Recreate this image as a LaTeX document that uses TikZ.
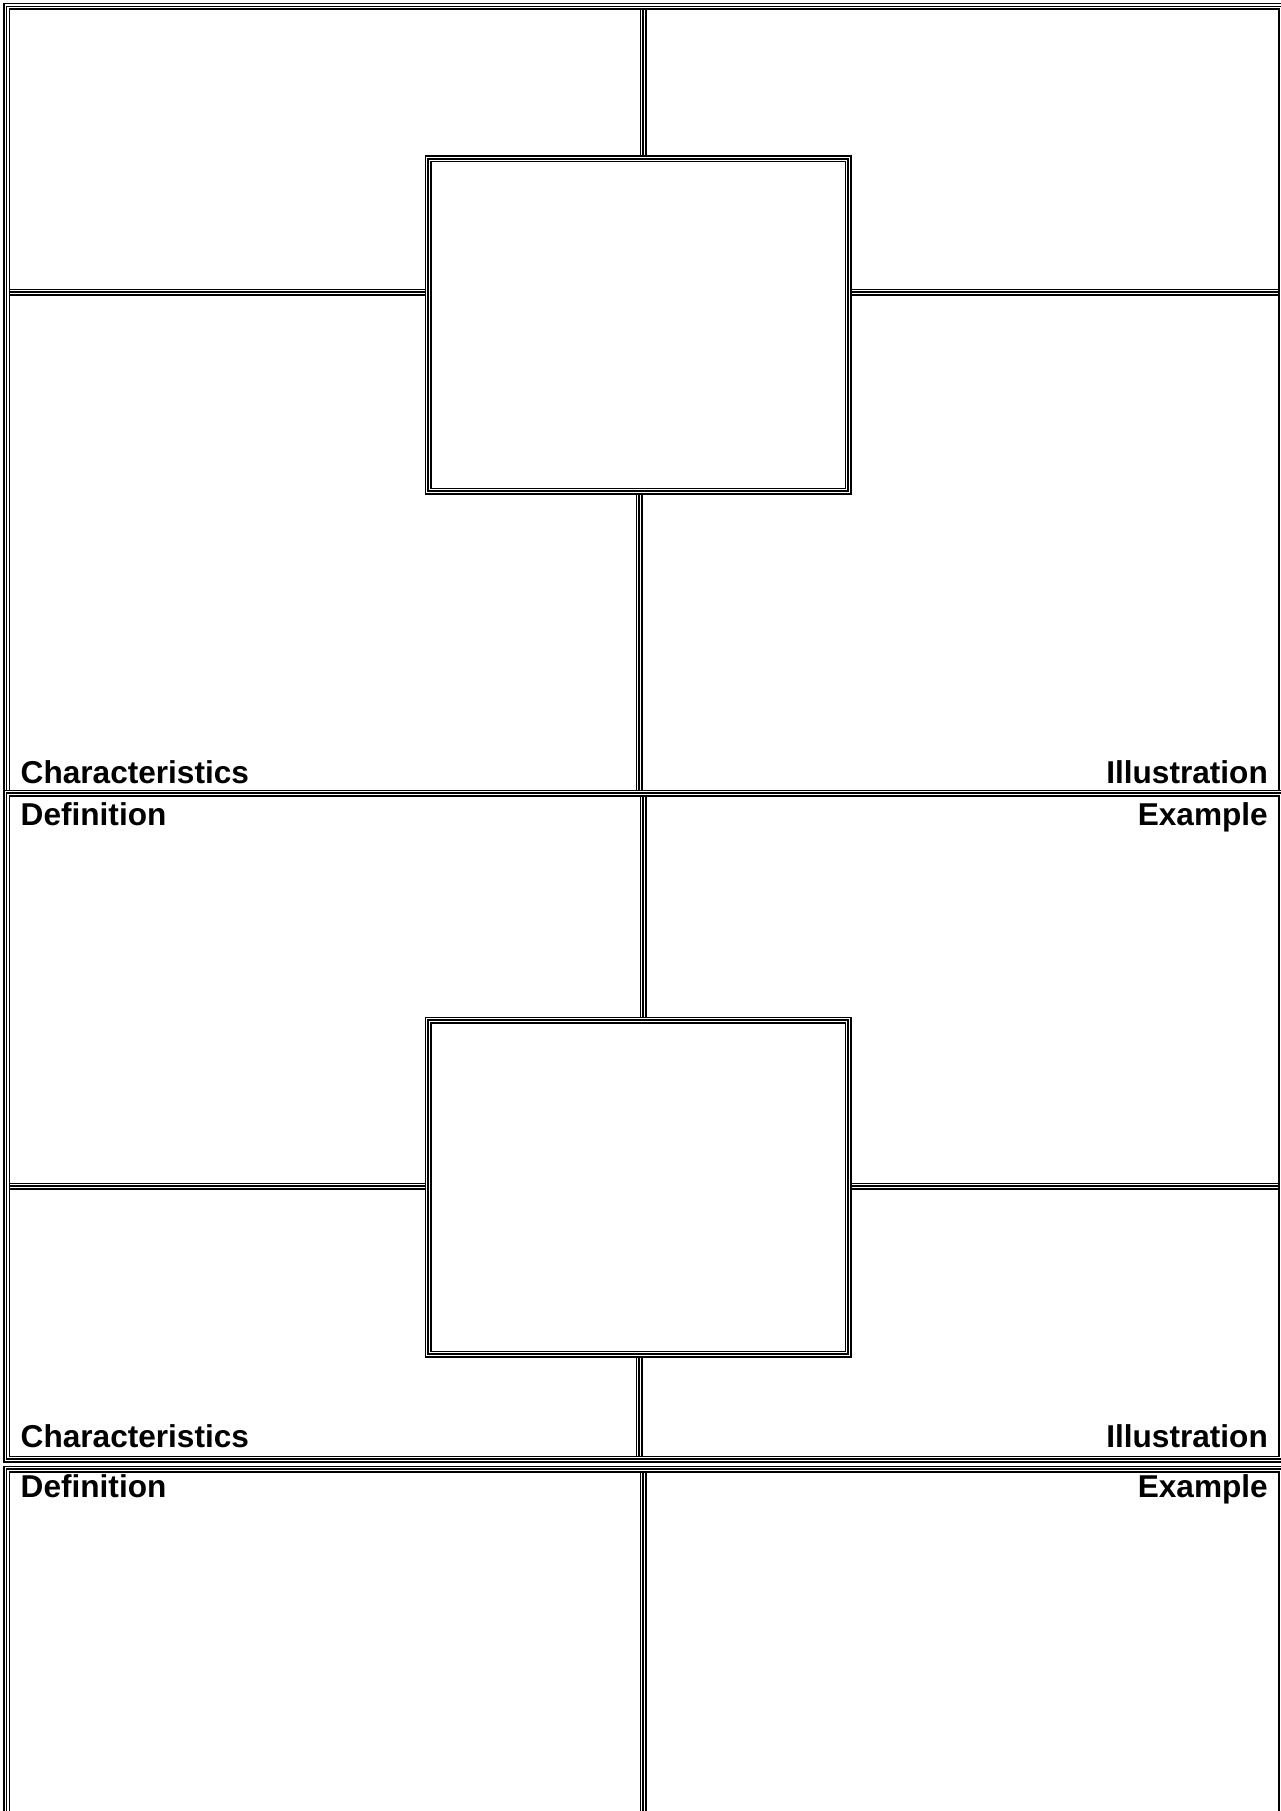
\documentclass[tikz,border=0pt]{standalone}
\usepackage{fontspec}
\setmainfont{Liberation Sans}
\usetikzlibrary{positioning,backgrounds}
\tikzset{
  tline/.style={draw=black,line width=7pt,
    postaction={draw=white,line width=4pt},
    postaction={draw=black,line width=1.6pt}},
  framebox/.style={tline,rectangle,inner sep=0pt,outer sep=0pt,anchor=north west,minimum width=1275pt},
  corebox/.style={tline,rectangle,inner sep=0pt,outer sep=0pt,minimum width=420pt},
  cornertext/.style={inner sep=0pt,font=\fontsize{31.6}{38}\selectfont\bfseries},
}

\begin{document}
\begin{tikzpicture}[x=1pt,y=-1pt]
  \useasboundingbox (0,0) rectangle (1281,1811);
  % first model
  \node[framebox,minimum height=786.5pt] (frame1) at (6.5,6.5) {};
  \node[corebox,minimum height=332pt] (core1) at (638,325) {};
  % second model
  \node[framebox,minimum height=666pt] (frame2) at (6.5,793) {};
  \node[corebox,minimum height=334pt] (core2) at (638,1187) {};
  % third model, cut off by the page
  \node[framebox,minimum height=371pt] (frame3) at (6.5,1469) {};
  \begin{scope}[on background layer]
    \draw[tline] (frame1.north -| 643,0) -- (core1.north -| 643,0);
    \draw[tline] (core1.south -| 639,0) -- (frame1.south -| 639,0);
    \draw[tline] (frame1.west |- 0,292) -- (core1.west |- 0,292);
    \draw[tline] (core1.east |- 0,292) -- (frame1.east |- 0,292);
    \draw[tline] (frame2.north -| 643,0) -- (core2.north -| 643,0);
    \draw[tline] (core2.south -| 639,0) -- (frame2.south -| 639,0);
    \draw[tline] (frame2.west |- 0,1186) -- (core2.west |- 0,1186);
    \draw[tline] (core2.east |- 0,1186) -- (frame2.east |- 0,1186);
    \draw[tline] (frame3.north -| 643,0) -- (frame3.south -| 643,0);
  \end{scope}
  % labels
  \node[cornertext,anchor=base west] (char1) at (20.5,783) {Characteristics};
  \node[cornertext,anchor=base east] (illu1) at (1268,783) {Illustration};
  \node[cornertext,anchor=base west] (defn2) at (20.5,825) {Definition};
  \node[cornertext,anchor=base east] (exam2) at (1268,825) {Example};
  \node[cornertext,anchor=base west] (char2) at (20.5,1447) {Characteristics};
  \node[cornertext,anchor=base east] (illu2) at (1268,1447) {Illustration};
  \node[cornertext,anchor=base west] (defn3) at (20.5,1497) {Definition};
  \node[cornertext,anchor=base east] (exam3) at (1268,1497) {Example};
\end{tikzpicture}
\end{document}
